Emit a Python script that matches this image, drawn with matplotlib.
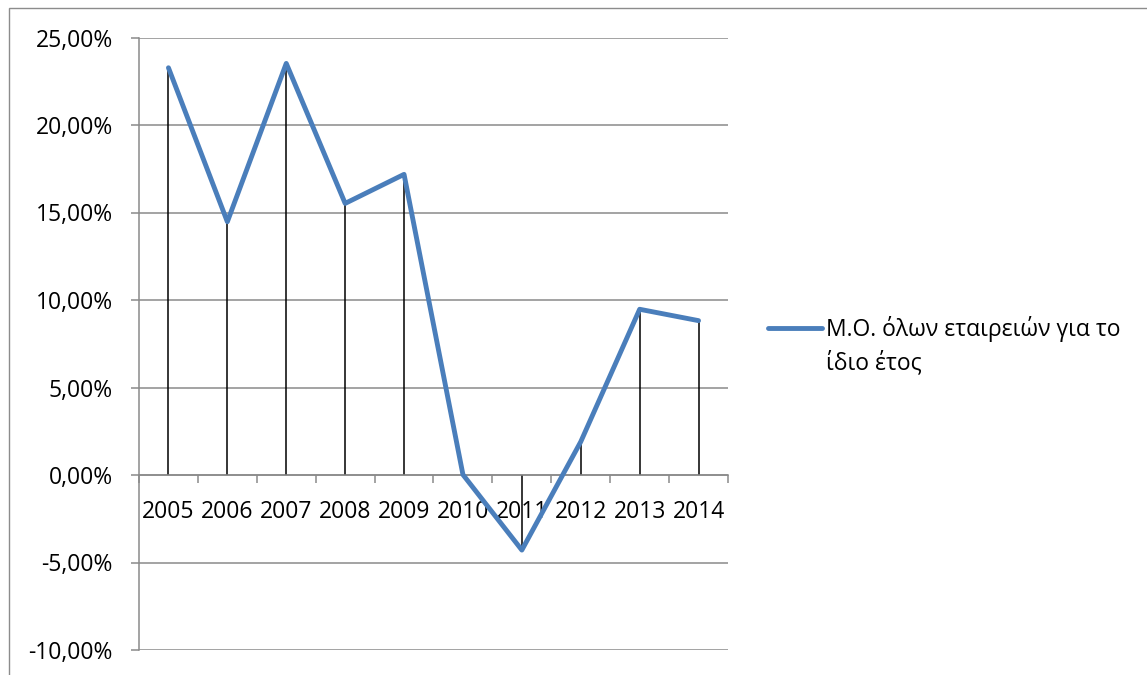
import numpy as np
import matplotlib
matplotlib.use("Agg")
import matplotlib.pyplot as plt
from matplotlib.patches import Rectangle
from matplotlib.lines import Line2D
from matplotlib.ticker import FuncFormatter

plt.rcParams['font.family'] = ['Open Sans', 'DejaVu Sans']

years = ["2005", "2006", "2007", "2008", "2009", "2010", "2011", "2012", "2013", "2014"]
avg_return = [23.27, 14.47, 23.52, 15.52, 17.18, 0.02, -4.29, 1.90, 9.47, 8.82]
series_label = "Μ.Ο. όλων εταιρειών για το\nίδιο έτος"
y_ticks = [-10, -5, 0, 5, 10, 15, 20, 25]

W, H = 1147, 675
fig = plt.figure(figsize=(W / 100, H / 100), dpi=100)
fig.patch.set_facecolor("white")

line_c = "#4a7ebb"
grid_c = "#8a8a8a"

# chart frame (runs off the right and bottom edges)
fig.add_artist(Rectangle((8.5 / W, -0.05), 1.2, 1.05 - 8.5 / H,
                         transform=fig.transFigure, fill=False,
                         edgecolor="#8c8c8c", linewidth=1.0))

left, right, top, bottom = 139, 728, 37.5, 650
ax = fig.add_axes([left / W, (H - bottom) / H, (right - left) / W, (bottom - top) / H])

x = np.arange(len(years))

ax.set_xlim(-0.5, len(years) - 0.5)
ax.set_ylim(min(y_ticks), max(y_ticks))

# horizontal gridlines
for t in y_ticks:
    ax.axhline(t, color=grid_c, linewidth=1.1, zorder=1)

# drop lines to the category axis
ax.vlines(x, 0, avg_return, color="black", linewidth=1.1, zorder=2)

ax.plot(x, avg_return, color=line_c, linewidth=3.5,
        solid_joinstyle="round", solid_capstyle="round", zorder=3)

for s in ["top", "right"]:
    ax.spines[s].set_visible(False)
ax.spines["left"].set_color(grid_c)
ax.spines["left"].set_linewidth(1.1)
ax.spines["bottom"].set_position(("data", 0))
ax.spines["bottom"].set_color(grid_c)
ax.spines["bottom"].set_linewidth(1.1)

ax.set_yticks(y_ticks)
ax.yaxis.set_major_formatter(FuncFormatter(lambda v, p: f"{v:.2f}%".replace(".", ",")))
ax.tick_params(axis="y", length=5.8, width=1.1, color=grid_c, pad=13, labelsize=16.5,
               labelcolor="black")

ax.set_xticks(np.arange(len(years) + 1) - 0.5)
ax.set_xticklabels([])
ax.tick_params(axis="x", which="major", length=5.8, width=1.1, color=grid_c, direction="out")
ax.set_xticks(x, minor=True)
ax.set_xticklabels(years, minor=True)
ax.tick_params(axis="x", which="minor", length=0, pad=18, labelsize=16.5, labelcolor="black")

# legend: line sample level with the first line of the label
fig.add_artist(Line2D([768 / W, 822 / W], [1 - 328 / H] * 2, transform=fig.transFigure,
                      color=line_c, linewidth=3.5, solid_capstyle="round"))
fig.text(826 / W, 1 - 369 / H, series_label, fontsize=16.5, va="baseline", ha="left",
         linespacing=1.45)

fig.savefig("out.png", dpi=100, facecolor="white")
